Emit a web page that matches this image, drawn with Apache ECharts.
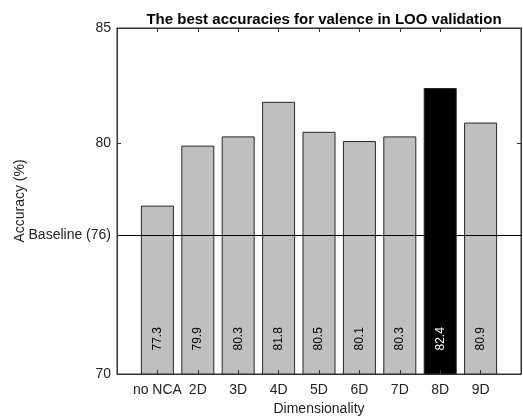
<!DOCTYPE html>
<html>
<head>
<meta charset="UTF-8">
<title>LOO valence</title>
<script src="https://cdn.jsdelivr.net/npm/echarts@6/dist/echarts.min.js"></script>
</head>
<body style="margin:0">
<div id="chart" style="width:523px;height:416px;"></div>
<script type="text/javascript">
// data
var dims = ['no NCA', '2D', '3D', '4D', '5D', '6D', '7D', '8D', '9D'];
var accuracy = [77.3, 79.9, 80.3, 81.8, 80.5, 80.1, 80.3, 82.4, 80.9];
var bestIndex = 7;
var baseline = 76;
var yLabelTicks = [70, 76, 80, 85];
var yTicks = [70, 80, 85];

var font = 'Liberation Sans, Arial, sans-serif';
var barData = [];
for (var i = 0; i < accuracy.length; i++) {
	var best = (i == bestIndex);
	barData.push({
		value: [i + 1, accuracy[i]],
		itemStyle: {color: best ? '#000000' : '#bfbfbf'},
		label: {color: best ? '#ffffff' : '#000000'}
	});
}

var mychart = echarts.init(document.getElementById('chart'));
var option = {
	backgroundColor: '#ffffff',
	animation: false,
	title: {
		text: 'The best accuracies for valence in LOO validation',
		left: 319, top: 7, textAlign: 'center',
		textStyle: {fontFamily: font, fontSize: 15, fontWeight: 'bold', color: '#000'}
	},
	grid: {left: 117, right: 2, top: 28, bottom: 42, outerBoundsMode: 'none',
		show: true, borderColor: '#333', borderWidth: 1},
	xAxis: [{
		type: 'value', min: 0, max: 10, interval: 1, position: 'bottom', z: 5,
		name: 'Dimensionality', nameLocation: 'middle', nameGap: 27,
		nameTextStyle: {fontFamily: font, fontSize: 14, color: '#222'},
		axisLine: {lineStyle: {color: '#333'}},
		axisTick: {inside: true, length: 4, lineStyle: {color: '#333'}},
		splitLine: {show: false},
		axisLabel: {
			fontFamily: font, fontSize: 14, color: '#222', margin: 9,
			formatter: function(v){ return dims[v - 1] || ''; }
		}
	}, {
		type: 'value', min: 0, max: 10, interval: 1, position: 'top', z: 5,
		axisLine: {lineStyle: {color: '#333'}},
		axisTick: {inside: true, length: 4, lineStyle: {color: '#333'}},
		axisLabel: {show: false}, splitLine: {show: false}
	}],
	yAxis: [{
		type: 'value', min: 70, max: 85, interval: 5, position: 'left', z: 5,
		name: 'Accuracy (%)', nameLocation: 'middle', nameGap: 90, nameMoveOverlap: false,
		nameTextStyle: {fontFamily: font, fontSize: 14, color: '#222'},
		axisLine: {show: true, onZero: false, lineStyle: {color: '#333'}},
		axisTick: {show: true, inside: true, length: 4, customValues: yTicks, lineStyle: {color: '#333'}},
		splitLine: {show: false},
		axisLabel: {
			fontFamily: font, fontSize: 14, color: '#222', margin: 6,
			customValues: yLabelTicks,
			formatter: function(v){ return v == baseline ? 'Baseline (' + baseline + ')' : String(v); }
		}
	}, {
		type: 'value', min: 70, max: 85, interval: 5, position: 'right', z: 5,
		axisLine: {show: true, onZero: false, lineStyle: {color: '#333'}},
		axisTick: {show: true, inside: true, length: 4, customValues: yTicks, lineStyle: {color: '#333'}},
		axisLabel: {show: false}, splitLine: {show: false}
	}],
	series: [{
		type: 'bar',
		xAxisIndex: 0, yAxisIndex: 0,
		barWidth: 33,
		itemStyle: {borderColor: '#262626', borderWidth: 1},
		label: {
			show: true, position: 'insideBottom', distance: 24,
			rotate: 90, align: 'left', verticalAlign: 'middle',
			fontFamily: font, fontSize: 12,
			formatter: function(p){ return p.value[1].toFixed(1); }
		},
		markLine: {
			silent: true, symbol: 'none', animation: false,
			label: {show: false},
			lineStyle: {color: '#000', type: 'solid', width: 1},
			data: [{yAxis: baseline}]
		},
		data: barData
	}]
};
mychart.setOption(option);
</script>
</body>
</html>
